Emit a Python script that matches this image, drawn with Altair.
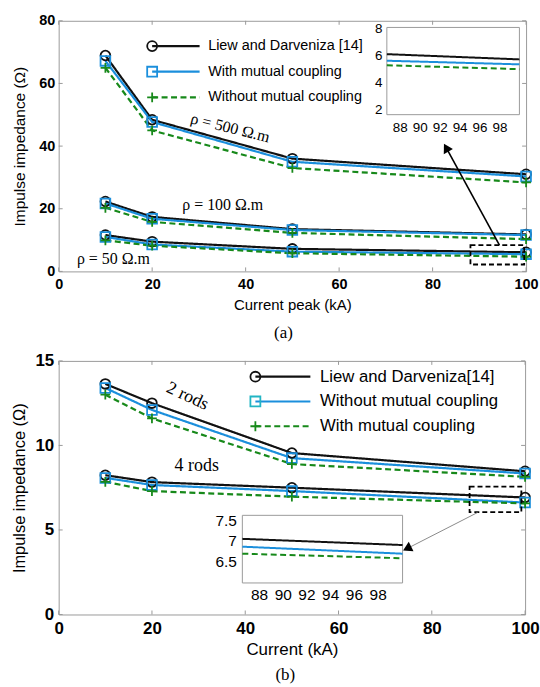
import altair as alt
import pandas as pd

SANS = "Liberation Sans"
SERIF = "Liberation Serif"
FRAME = "#9a9a9a"

CURRENT = [10, 20, 50, 100]

# ---------------- panel (a) ----------------
A_RHO500_LIEW = [68.9, 48.4, 36.0, 31.0]
A_RHO500_WITH = [67.2, 47.7, 35.0, 30.3]
A_RHO500_WITHOUT = [65.0, 45.0, 33.0, 28.4]
A_RHO100_LIEW = [22.3, 17.4, 13.5, 11.8]
A_RHO100_WITH = [21.7, 16.8, 13.2, 11.6]
A_RHO100_WITHOUT = [20.3, 15.8, 12.3, 10.3]
A_RHO50_LIEW = [11.6, 9.5, 7.2, 6.1]
A_RHO50_WITH = [11.0, 8.6, 6.3, 5.5]
A_RHO50_WITHOUT = [9.9, 8.2, 5.8, 4.7]

A_INSET_X = [86.7, 100.0]
A_INSET_LIEW = [6.11, 5.72]
A_INSET_WITH = [5.62, 5.35]
A_INSET_WITHOUT = [5.28, 4.99]

A_LEGEND = ["Liew and Darveniza [14]", "With mutual coupling", "Without mutual coupling"]
A_XTICKS = [0, 20, 40, 60, 80, 100]
A_YTICKS = [0, 20, 40, 60, 80]
A_INSET_XTICKS = [88, 90, 92, 94, 96, 98]
A_INSET_YTICKS = [2, 4, 6, 8]
A_INSET_YDOM = [1.6, 8.1]
A_ANN_TEXT = ["ρ = 500 Ω.m", "ρ = 100 Ω.m", "ρ = 50 Ω.m"]
A_ANN_X = [36.7, 35.1, 11.7]
A_ANN_Y = [45.8, 21.3, 4.0]
A_ANN_ANGLE = [14, 0, 0]
A_BOX = dict(x0=[88.1], x1=[99.6], y0=[2.2], y1=[8.4])
A_ARROW = dict(x0=[94.3], y0=[8.4], x1=[82.9], y1=[39.5])

# ---------------- panel (b) ----------------
B_2RODS_LIEW = [13.64, 12.5, 9.55, 8.47]
B_2RODS_WITHOUT = [13.4, 12.1, 9.25, 8.34]
B_2RODS_WITH = [13.0, 11.6, 8.9, 8.14]
B_4RODS_LIEW = [8.24, 7.83, 7.5, 6.92]
B_4RODS_WITHOUT = [8.08, 7.66, 7.3, 6.62]
B_4RODS_WITH = [7.85, 7.3, 6.97, 6.57]

B_INSET_X = [86.6, 100.1]
B_INSET_LIEW = [7.05, 6.9]
B_INSET_WITHOUT = [6.86, 6.69]
B_INSET_WITH = [6.69, 6.58]

B_LEGEND = ["Liew and Darveniza[14]", "Without mutual coupling", "With mutual coupling"]
B_YTICKS = [0, 5, 10, 15]
B_INSET_YTICKS = [6.5, 7, 7.5]
B_INSET_YDOM = [5.98, 7.62]
B_ANN_TEXT = ["2 rods", "4 rods"]
B_ANN_X = [27.6, 29.6]
B_ANN_Y = [12.9, 8.8]
B_ANN_ANGLE = [25, 0]
B_BOX = dict(x0=[88.1], x1=[99.2], y0=[6.05], y1=[7.56])
B_ARROW = dict(x0=[89.8], y0=[6.03], x1=[74.7], y1=[3.9])

KEYS = ["liew", "blue", "green"]
COLORS = ["#111111", "#1b8fdc", "#17891a"]
B_LEGEND_MARKER_COLORS = ["#111111", "#22b5c4", "#17891a"]
DASHES = [[1, 0], [1, 0], [6, 3.5]]
SHAPES = ["circle", "square", "M-1,0L1,0M0,-1L0,1"]


def color_enc():
    return alt.Color("series:N", scale=alt.Scale(domain=KEYS, range=COLORS), legend=None)


def dash_enc():
    return alt.StrokeDash("series:N", scale=alt.Scale(domain=KEYS, range=DASHES), legend=None)


def shape_enc():
    return alt.Shape("series:N", scale=alt.Scale(domain=KEYS, range=SHAPES), legend=None)


def long_df(xs, groups):
    rows = []
    for g, series_vals in groups:
        for key, ys in zip(KEYS, series_vals):
            for x, y in zip(xs, ys):
                rows.append({"I": x, "Z": y, "series": key, "group": g})
    return pd.DataFrame(rows)


def make_panel(c):
    W, H = c["W"], c["H"]
    XS = alt.Scale(domain=[0, 100], nice=False, zero=False)
    YS = alt.Scale(domain=c["ydom"], nice=False, zero=False)
    xaxis = alt.Axis(values=A_XTICKS, title=c["xtitle"], tickSize=0, domain=False, grid=False,
                     labelPadding=c["xlabpad"], labelFont=SANS, labelFontSize=c["tickfs"],
                     labelFontWeight=c["tickfw"], labelColor="black", labelFlush=False,
                     labelOverlap=False, titleFont=SANS, titleFontSize=c["xtitlefs"],
                     titleFontWeight=c["xtitlefw"], titleColor="black", titleY=c["xtitle_y"],
                     titleBaseline="middle")
    yaxis = alt.Axis(values=c["yticks"], title="Impulse impedance (Ω)", tickSize=0, domain=False,
                     grid=False, labelPadding=c["ylabpad"], labelFont=SANS, labelFontSize=c["tickfs"],
                     labelFontWeight=c["tickfw"], labelColor="black", labelFlush=False,
                     labelOverlap=False, titleFont=SANS, titleFontSize=c["ytitlefs"],
                     titleFontWeight="normal", titleColor="black", titleX=c["ytitle_x"],
                     titleBaseline="middle")

    def X(f):
        return alt.X(f, type="quantitative", scale=XS, axis=xaxis)

    def Y(f):
        return alt.Y(f, type="quantitative", scale=YS, axis=yaxis)

    df = long_df(CURRENT, c["groups"])
    xt = pd.DataFrame({"t": A_XTICKS})
    yt = pd.DataFrame({"t": c["yticks"]})
    tl = 4
    ticks = [
        alt.Chart(xt).mark_rule(color=FRAME, strokeWidth=1).encode(x=X("t"), y=alt.value(H), y2=alt.value(H - tl)),
        alt.Chart(xt).mark_rule(color=FRAME, strokeWidth=1).encode(x=X("t"), y=alt.value(0), y2=alt.value(tl)),
        alt.Chart(yt).mark_rule(color=FRAME, strokeWidth=1).encode(y=Y("t"), x=alt.value(0), x2=alt.value(tl)),
        alt.Chart(yt).mark_rule(color=FRAME, strokeWidth=1).encode(y=Y("t"), x=alt.value(W), x2=alt.value(W - tl)),
    ]
    lines = alt.Chart(df).mark_line(strokeWidth=2.2).encode(
        x=X("I"), y=Y("Z"), color=color_enc(), strokeDash=dash_enc(), detail="group:N")
    points = alt.Chart(df).mark_point(filled=False, size=95, strokeWidth=1.8, opacity=1).encode(
        x=X("I"), y=Y("Z"), color=color_enc(), shape=shape_enc())
    box = alt.Chart(pd.DataFrame(c["box"])).mark_rect(
        fillOpacity=0, stroke="black", strokeWidth=1.8, strokeDash=[5, 3]).encode(
        x=X("x0"), x2="x1", y=Y("y0"), y2="y1")
    arrow_df = pd.DataFrame(c["arrow"])
    arrow = alt.Chart(arrow_df).mark_rule(color=c["arrow_color"], strokeWidth=c["arrow_w"]).encode(
        x=X("x0"), y=Y("y0"), x2="x1", y2="y1")
    head = alt.Chart(arrow_df).mark_point(shape="triangle-up", filled=True, color="black", size=110,
                                          angle=c["arrow_angle"], opacity=1).encode(x=X("x1"), y=Y("y1"))
    anns = []
    for t, ax, ay, ang in zip(c["ann_text"], c["ann_x"], c["ann_y"], c["ann_angle"]):
        anns.append(alt.Chart(pd.DataFrame({"x": [ax], "y": [ay], "t": [t]})).mark_text(
            font=SERIF, fontSize=c["annfs"], angle=ang, baseline="middle", align="center", color="black"
        ).encode(x=X("x"), y=Y("y"), text="t:N"))
    main = alt.layer(*ticks, lines, points, box, arrow, head, *anns)

    # inset
    ixl, ixr = c["inset_xr"]
    iyb, iyt = c["inset_yr"]
    IXS = alt.Scale(domain=c["inset_x"], range=[ixl, ixr], nice=False, zero=False)
    IYS = alt.Scale(domain=c["inset_ydom"], range=[iyb, iyt], nice=False, zero=False)
    ixaxis = alt.Axis(values=A_INSET_XTICKS, orient="bottom", offset=-(H - iyb), title=None, tickSize=0,
                      domain=False, grid=False, labelPadding=c["ilabpad_x"], labelFont=SANS,
                      labelFontSize=c["insetfs"], labelColor="black", labelFlush=False, labelOverlap=False)
    iyaxis = alt.Axis(values=c["inset_yticks"], orient="left", offset=-ixl, title=None, tickSize=0,
                      domain=False, grid=False, labelPadding=c["ilabpad_y"], labelFont=SANS, format="~g",
                      labelFontSize=c["insetfs"], labelColor="black", labelFlush=False, labelOverlap=False)
    frame_df = pd.DataFrame({"x0": [c["inset_x"][0]], "x1": [c["inset_x"][1]],
                             "y0": [c["inset_ydom"][0]], "y1": [c["inset_ydom"][1]]})
    iframe = alt.Chart(frame_df).mark_rect(fill="white", stroke=FRAME, strokeWidth=1).encode(
        x=alt.X("x0:Q", scale=IXS, axis=ixaxis), x2="x1",
        y=alt.Y("y0:Q", scale=IYS, axis=iyaxis), y2="y1")
    idf = long_df(c["inset_x"], [("inset", c["inset_vals"])])
    ilines = alt.Chart(idf).mark_line(strokeWidth=2).encode(
        x=alt.X("I:Q", scale=IXS, axis=ixaxis), y=alt.Y("Z:Q", scale=IYS, axis=iyaxis),
        color=color_enc(), strokeDash=dash_enc())
    inset = alt.layer(iframe, ilines)

    # legend
    ldf = pd.DataFrame({"row": [0, 1, 2], "series": KEYS, "label": c["legend"]})
    LY = alt.Y("row:Q", scale=alt.Scale(domain=[0, 2], range=c["leg_rows"]), axis=None)
    lx, lx2, tx = c["leg_x"]
    lrule = alt.Chart(ldf).mark_rule(strokeWidth=2.2).encode(
        x=alt.value(lx), x2=alt.value(lx2), y=LY, color=color_enc(), strokeDash=dash_enc())
    lpts = alt.Chart(ldf).mark_point(filled=False, size=100, strokeWidth=1.8, opacity=1).encode(
        x=alt.value(lx), y=LY, shape=shape_enc(),
        stroke=alt.Stroke("series:N", scale=alt.Scale(domain=KEYS, range=c["leg_marker_colors"]),
                          legend=None))
    ltxt = alt.Chart(ldf).mark_text(align="left", baseline="middle", font=SANS,
                                    fontSize=c["legfs"], color="black").encode(
        x=alt.value(tx), y=LY, text="label:N")
    cap = alt.Chart(pd.DataFrame({"c": [c["caption"]]})).mark_text(
        font=SERIF, fontSize=17, color="black", baseline="middle", align="center").encode(
        x=alt.value(c["cap_xy"][0]), y=alt.value(c["cap_xy"][1]), text="c:N")
    legend = alt.layer(lrule, lpts, ltxt, cap)

    return alt.layer(main, inset, legend).resolve_scale(
        x="independent", y="independent", stroke="independent").properties(width=W, height=H)


panel_a = make_panel(dict(
    W=470, H=252, ydom=[0, 80], yticks=A_YTICKS, xtitle="Current peak (kA)",
    tickfs=14.5, tickfw="bold", xtitlefs=15, xtitlefw="normal", ytitlefs=15.5,
    xlabpad=6, ylabpad=4, xtitle_y=33.7, ytitle_x=-39.5,
    groups=[("500", [A_RHO500_LIEW, A_RHO500_WITH, A_RHO500_WITHOUT]),
            ("100", [A_RHO100_LIEW, A_RHO100_WITH, A_RHO100_WITHOUT]),
            ("50", [A_RHO50_LIEW, A_RHO50_WITH, A_RHO50_WITHOUT])],
    box=A_BOX, arrow=A_ARROW, arrow_color="black", arrow_w=1.6, arrow_angle=331,
    ann_text=A_ANN_TEXT, ann_x=A_ANN_X, ann_y=A_ANN_Y, ann_angle=A_ANN_ANGLE, annfs=16,
    inset_x=A_INSET_X, inset_ydom=A_INSET_YDOM, inset_xr=[330, 463.3], inset_yr=[94.4, 6.7],
    inset_yticks=A_INSET_YTICKS, insetfs=13.5, ilabpad_x=6, ilabpad_y=5,
    inset_vals=[A_INSET_LIEW, A_INSET_WITH, A_INSET_WITHOUT],
    legend=A_LEGEND, leg_rows=[25.4, 77.0], leg_x=[94, 141.7, 150.3], legfs=14.5,
    leg_marker_colors=COLORS,
    caption="(a)", cap_xy=[226, 314.4],
))

panel_b = make_panel(dict(
    W=469, H=255, ydom=[0, 15], yticks=B_YTICKS, xtitle="Current (kA)",
    tickfs=17, tickfw="bold", xtitlefs=17, xtitlefw="normal", ytitlefs=16.5,
    xlabpad=6, ylabpad=5, xtitle_y=35.5, ytitle_x=-39.7,
    groups=[("2", [B_2RODS_LIEW, B_2RODS_WITHOUT, B_2RODS_WITH]),
            ("4", [B_4RODS_LIEW, B_4RODS_WITHOUT, B_4RODS_WITH])],
    box=B_BOX, arrow=B_ARROW, arrow_color="#8a8a8a", arrow_w=1, arrow_angle=243,
    ann_text=B_ANN_TEXT, ann_x=B_ANN_X, ann_y=B_ANN_Y, ann_angle=B_ANN_ANGLE, annfs=18,
    inset_x=B_INSET_X, inset_ydom=B_INSET_YDOM, inset_xr=[184.7, 345.8], inset_yr=[223.3, 155.3],
    inset_yticks=B_INSET_YTICKS, insetfs=15.5, ilabpad_x=5, ilabpad_y=6,
    inset_vals=[B_INSET_LIEW, B_INSET_WITHOUT, B_INSET_WITH],
    legend=B_LEGEND, leg_rows=[15.9, 65.7], leg_x=[197.8, 253.1, 262.8], legfs=16.8,
    leg_marker_colors=B_LEGEND_MARKER_COLORS,
    caption="(b)", cap_xy=[227.9, 316.2],
))

chart = alt.vconcat(panel_a, panel_b, spacing=90, bounds="flush").properties(
    padding={"left": 10, "top": 10, "right": 0, "bottom": 0},
    background="white",
).configure_view(stroke=FRAME, strokeWidth=1)

chart.save("out.html", embed_options={"renderer": "svg", "actions": False})
